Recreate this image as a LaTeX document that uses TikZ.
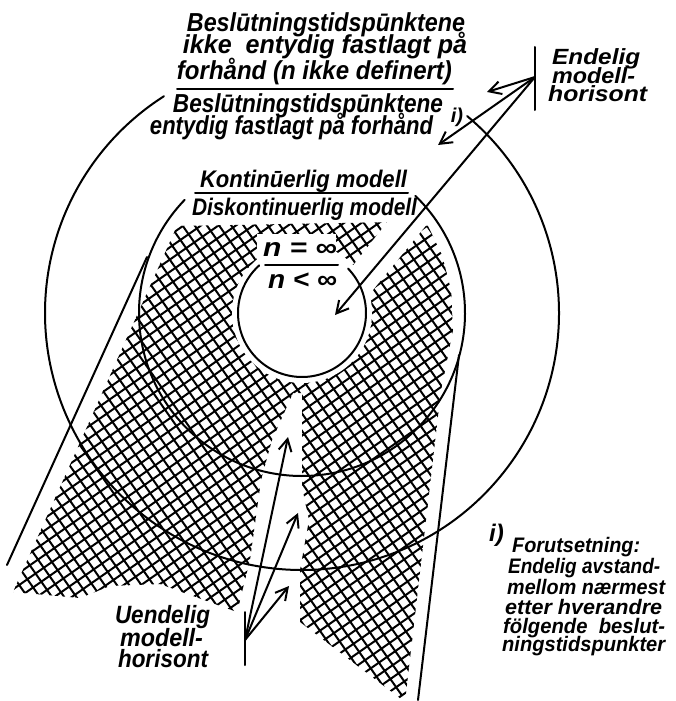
\documentclass[tikz,border=0pt]{standalone}
\usepackage{fontspec}
\usepackage{graphicx}
\setmainfont{Liberation Sans}
\usetikzlibrary{arrows.meta}
\newcommand\hwsize[1]{\fontsize{#1}{#1}\selectfont\bfseries\itshape}
\newcommand\fitw[2]{\resizebox{#1pt}{\height}{#2}}
\tikzset{
  pen/.style={line width=2pt,line cap=round,line join=round},
  hatchline/.style={line width=2pt},
  barb/.style={pen,-{Straight Barb[length=12pt,width=13pt]}},
  txt/.style={inner sep=0pt,anchor=base},
  txtw/.style={inner sep=0pt,anchor=base west},
  big/.style={txt,font=\hwsize{26}},
  med/.style={txt,font=\hwsize{24}},
  frac/.style={txt,font=\hwsize{26}},
  side/.style={txtw,font=\hwsize{22}},
  uend/.style={txt,font=\hwsize{25}},
  note/.style={txtw,font=\hwsize{21}},
}
\begin{document}
\begin{tikzpicture}[x=1pt,y=-1pt]
\useasboundingbox (0,0) rectangle (676,701);
\fill[white] (0,0) rectangle (676,701);
% ---------- cross hatching ----------
\begin{scope}
\clip (177,226) -- (395,222) -- (428,226) -- (442,255) -- (451,290) -- (453,330)
  -- (446,365) -- (441,390) -- (405,702) -- (300,622) -- (300,570) -- (309,520)
  -- (302,487) -- (302,393) -- (293,393) -- (272,440) -- (261,480) -- (250,560)
  -- (237,612) -- (160,584) -- (110,586) -- (80,598) -- (13,592) -- cycle;
\foreach \k in {5,...,95} {
  \draw[hatchline] ({\k*10*0.574-800*0.819},{\k*10*0.819+800*0.574})
     -- ++({1600*0.819},{-1600*0.574});
}
\foreach \k in {-50,...,32} {
  \draw[hatchline] ({\k*10*0.819-800*0.574},{-\k*10*0.574-800*0.819})
     -- ++({1600*0.574},{1600*0.819});
}
\end{scope}
% holes in the hatching
\fill[white] (302,313) circle (70);
\fill[white] (400,206) -- (442,206) -- (368,296) -- (332,292) -- cycle;
\fill[white] (257,234) rectangle (336,294);
% ---------- circles ----------
\coordinate (ctr) at (302,313);
\draw[pen] (ctr) ++(-44:64) arc[start angle=-44,end angle=228,radius=64];
\draw[pen] (ctr) ++(-46:163) arc[start angle=-46,end angle=224,radius=163];
\draw[pen] (ctr) ++(-50:257) arc[start angle=-50,end angle=237.5,radius=257];
% ---------- ribbon edges ----------
\coordinate (la) at (147,257); \coordinate (lb) at (7,565);
\coordinate (ra) at (459,355); \coordinate (rb) at (418,700);
\draw[pen] (la) -- (lb);
\draw[pen] (ra) -- (rb);
% ---------- texts ----------
\node[big] (t1) at (326,32) {\fitw{278}{Beslūtningstidspūnktene}};
\node[big] (t2) at (325,54) {\fitw{284}{ikke\ \ entydig fastlagt på}};
\node[big] (t3) at (314.5,79) {\fitw{275}{forhånd (n ikke definert)}};
\coordinate (u1a) at (177,89); \coordinate (u1b) at (453,89);
\draw[pen] (u1a) -- (u1b);
\node[big] (t4) at (308,112) {\fitw{270}{Beslūtningstidspūnktene}};
\node[txt,font=\hwsize{20}] (ti) at (457,122) {i)};
\node[big] (t5) at (291.5,134) {\fitw{283}{entydig fastlagt på forhånd}};
\node[med] (k1) at (303.5,187) {\fitw{207}{Kontinūerlig modell}};
\coordinate (u2a) at (195,193); \coordinate (u2b) at (408,193);
\draw[pen] (u2a) -- (u2b);
\node[med] (k2) at (304.5,215) {\fitw{225}{Diskontinuerlig modell}};
\node[frac] (n1) at (300,256) {\fitw{74}{n = ∞}};
\coordinate (u3a) at (265,265); \coordinate (u3b) at (338,265);
\draw[pen] (u3a) -- (u3b);
\node[frac] (n2) at (302.5,288) {\fitw{69}{n < ∞}};
% Endelig modellhorisont
\node[side] (e1) at (552,64) {\fitw{88}{Endelig}};
\node[side] (e2) at (552,83) {\fitw{83}{modell-}};
\node[side] (e3) at (548,101) {\fitw{99}{horisont}};
\coordinate (eba) at (535,47); \coordinate (ebb) at (535,110);
\draw[pen] (eba) -- (ebb);
\coordinate (eo) at (535,77);
\coordinate (ea) at (487,92);
\coordinate (eb) at (438,145);
\coordinate (ec) at (335,315);
\draw[barb] (eo) -- (ea);
\draw[barb] (eo) -- (eb);
\draw[barb] (eo) -- (ec);
% Uendelig modellhorisont
\node[uend] (v1) at (162.5,623) {\fitw{95}{Uendelig}};
\node[uend] (v2) at (161.5,646) {\fitw{83}{modell-}};
\node[uend] (v3) at (163,667) {\fitw{90}{horisont}};
\coordinate (uba) at (245,612); \coordinate (ubb) at (245,665);
\draw[pen] (uba) -- (ubb);
\coordinate (uo) at (245,640);
\coordinate (ua) at (288,437);
\coordinate (ub) at (298,513);
\coordinate (uc) at (289,586);
\draw[barb] (uo) -- (ua);
\draw[barb] (uo) -- (ub);
\draw[barb] (uo) -- (uc);
% footnote
\node[txtw,font=\hwsize{24}] (fi) at (489,541) {i)};
\node[note] (f1) at (512,552) {\fitw{128}{Forutsetning:}};
\node[note] (f2) at (508,573) {\fitw{152}{Endelig avstand-}};
\node[note] (f3) at (507,594) {\fitw{158}{mellom nærmest}};
\node[note] (f4) at (505,614) {\fitw{157}{etter hverandre}};
\node[note] (f5) at (503,633) {\fitw{162}{fölgende\ \ beslut-}};
\node[note] (f6) at (502,651) {\fitw{163}{ningstidspunkter}};
\end{tikzpicture}
\end{document}
